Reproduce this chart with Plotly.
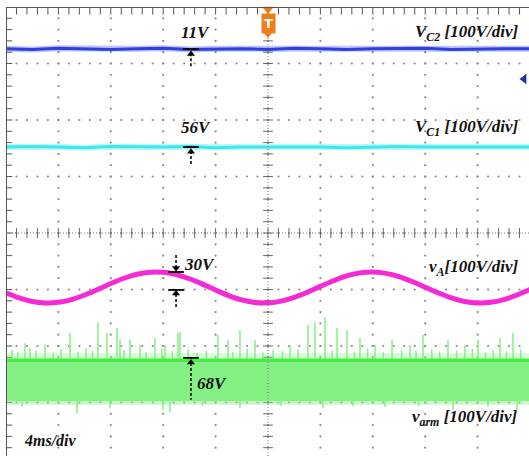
import numpy as np
import plotly.graph_objects as go

# ---------------- data (time in ms, 4 ms/div; vertical in divisions, 100 V/div) -------------
t_dc = [0, 2, 4, 6, 8, 10, 12, 14, 16, 18, 20, 22, 24, 26, 28, 30, 32, 34, 36, 38, 40]
vc2 = [3.26, 3.25, 3.27, 3.26, 3.25, 3.26, 3.27, 3.25, 3.26, 3.26, 3.25,
       3.27, 3.26, 3.25, 3.26, 3.26, 3.27, 3.25, 3.26, 3.26, 3.26]
vc1 = [1.52, 1.53, 1.52, 1.51, 1.53, 1.52, 1.52, 1.53, 1.51, 1.52, 1.52,
       1.53, 1.52, 1.51, 1.52, 1.53, 1.52, 1.52, 1.51, 1.52, 1.52]

t_va = list(range(0, 41))
va = [-1.060, -1.149, -1.212, -1.239, -1.227, -1.178, -1.098, -0.999, -0.895, -0.801,
      -0.731, -0.694, -0.696, -0.737, -0.810, -0.905, -1.009, -1.107, -1.185, -1.231,
      -1.238, -1.206, -1.139, -1.048, -0.945, -0.845, -0.760, -0.706, -0.690, -0.714,
      -0.772, -0.858, -0.959, -1.060, -1.149, -1.212, -1.239, -1.227, -1.178, -1.098,
      -0.999]

varm_t = [0, 40]
varm_top = [-2.25, -2.25]
varm_bottom = [-2.98, -2.98]

spike_t = [0.46, 1.45, 1.83, 2.98, 4.89, 7.02, 7.71, 8.47, 8.70, 9.47, 10.23, 11.37, 12.14,
           13.13, 13.28, 16.18, 16.95, 17.86, 19.01, 21.68, 23.05, 23.59, 24.35, 25.27,
           26.03, 27.02, 28.17, 29.47, 30.84, 31.83, 33.74, 35.04, 36.03, 37.71, 38.70]
spike_top = [-2.07, -1.95, -2.04, -1.98, -1.77, -1.58, -1.77, -1.68, -1.89, -1.89, -1.98,
             -1.86, -1.98, -1.77, -1.75, -1.80, -1.89, -1.72, -1.89, -1.98, -1.63, -1.59,
             -1.49, -1.68, -1.72, -1.86, -1.98, -1.89, -1.98, -1.80, -1.89, -1.98, -1.89,
             -1.86, -1.77]
small_t = [0.9, 2.3, 3.6, 4.2, 5.5, 6.1, 6.6, 9.0, 10.7, 11.9, 12.7, 13.9, 14.6, 15.3,
           17.3, 18.4, 19.6, 20.4, 21.1, 22.3, 24.9, 26.6, 27.6, 28.8, 30.2, 31.3, 32.5,
           33.1, 34.4, 35.6, 36.6, 37.2, 38.2, 39.3]
small_top = [-2.10, -2.08, -2.12, -2.06, -2.10, -2.04, -2.09, -2.07, -2.11, -2.05, -2.09,
             -2.06, -2.12, -2.08, -2.10, -2.05, -2.11, -2.07, -2.09, -2.06, -2.08, -2.10,
             -2.05, -2.11, -2.07, -2.09, -2.06, -2.10, -2.08, -2.05, -2.11, -2.07, -2.09,
             -2.06]
dip_t = [1.2, 5.42, 7.94, 11.98, 12.52, 15.0, 17.86, 21.0, 24.2, 26.5, 28.93, 31.5, 34.12,
         36.8, 39.0]
dip_bottom = [-3.07, -3.19, -3.10, -3.13, -3.17, -3.06, -3.10, -3.06, -3.10, -3.06, -3.08,
              -3.06, -3.13, -3.07, -3.13]

# ---------------- figure --------------------------------------------------------------------
fig = go.Figure()

# grid dots
gx, gy = [], []
for xv in np.arange(0, 40.01, 4):
    for yv in np.arange(-4, 4.01, 0.2):
        gx.append(xv); gy.append(yv)
for yv in np.arange(-4, 4.01, 1):
    for xv in np.arange(0, 40.01, 0.8):
        gx.append(xv); gy.append(yv)
fig.add_trace(go.Scatter(x=gx, y=gy, mode="markers",
                         marker=dict(size=2.2, color="#8a8a8a"), hoverinfo="skip"))

# crosshair ticks
fig.add_trace(go.Scatter(x=list(np.arange(0, 40.01, 0.8)), y=[0] * 51, mode="markers",
                         marker=dict(symbol="line-ns", size=7, line=dict(width=1, color="#666")),
                         hoverinfo="skip"))
fig.add_trace(go.Scatter(x=[20] * 41, y=list(np.arange(-4, 4.01, 0.2)), mode="markers",
                         marker=dict(symbol="line-ew", size=7, line=dict(width=1, color="#666")),
                         hoverinfo="skip"))
# border ticks
fig.add_trace(go.Scatter(x=[0.15] * 41, y=list(np.arange(-4, 4.01, 0.2)), mode="markers",
                         marker=dict(symbol="line-ew", size=6, line=dict(width=1, color="#555")),
                         hoverinfo="skip"))
fig.add_trace(go.Scatter(x=list(np.arange(0, 40.01, 0.8)), y=[3.94] * 51, mode="markers",
                         marker=dict(symbol="line-ns", size=6, line=dict(width=1, color="#555")),
                         hoverinfo="skip"))

# v_arm band
fig.add_trace(go.Scatter(x=varm_t, y=varm_bottom, mode="lines", line=dict(width=0, color="#86f086"),
                         hoverinfo="skip"))
fig.add_trace(go.Scatter(x=varm_t, y=varm_top, mode="lines", fill="tonexty",
                         fillcolor="#84f084", line=dict(width=0, color="#84f084"), hoverinfo="skip"))
# fuzzy edges
fig.add_trace(go.Scatter(x=varm_t, y=varm_top, mode="lines", line=dict(width=0),
                         hoverinfo="skip"))
fig.add_trace(go.Scatter(x=varm_t, y=[v + 0.12 for v in varm_top], mode="lines", fill="tonexty",
                         fillcolor="rgba(134,240,134,0.35)", line=dict(width=0), hoverinfo="skip"))
fig.add_trace(go.Scatter(x=varm_t, y=varm_bottom, mode="lines", line=dict(width=0),
                         hoverinfo="skip"))
fig.add_trace(go.Scatter(x=varm_t, y=[v - 0.06 for v in varm_bottom], mode="lines", fill="tonexty",
                         fillcolor="rgba(134,240,134,0.45)", line=dict(width=0), hoverinfo="skip"))

sx, sy = [], []
for t, top in zip(spike_t, spike_top):
    sx += [t, t, None]; sy += [varm_top[0], top, None]
for t, top in zip(small_t, small_top):
    sx += [t, t, None]; sy += [varm_top[0], top, None]
for t, bot in zip(dip_t, dip_bottom):
    sx += [t, t, None]; sy += [varm_bottom[0], bot, None]
fig.add_trace(go.Scatter(x=sx, y=sy, mode="lines", line=dict(width=1.6, color="#8cf08c"),
                         hoverinfo="skip"))
fig.add_trace(go.Scatter(x=varm_t, y=varm_top, mode="lines", line=dict(width=3.5, color="#46ec46"),
                         hoverinfo="skip"))

# DC traces
fig.add_trace(go.Scatter(x=t_dc, y=vc2, mode="lines", line=dict(width=6, color="rgba(48,64,230,0.3)"),
                         hoverinfo="skip"))
fig.add_trace(go.Scatter(x=t_dc, y=vc2, mode="lines", line=dict(width=3, color="#2f3fe0"),
                         hoverinfo="skip"))
fig.add_trace(go.Scatter(x=t_dc, y=vc1, mode="lines", line=dict(width=6, color="rgba(60,230,240,0.35)"),
                         hoverinfo="skip"))
fig.add_trace(go.Scatter(x=t_dc, y=vc1, mode="lines", line=dict(width=3, color="#3ee6f0"),
                         hoverinfo="skip"))
# v_A
fig.add_trace(go.Scatter(x=t_va, y=va, mode="lines", line=dict(width=5, color="#f52ad6", shape="spline"),
                         hoverinfo="skip"))

# ---------------- measurement markers ---------------------------------------------------------
shapes = []
def hbar(xc, y):
    shapes.append(dict(type="line", x0=xc - 0.6, x1=xc + 0.6, y0=y, y1=y,
                       line=dict(color="black", width=1.8)))
def dashed(x, y0, y1):
    shapes.append(dict(type="line", x0=x, x1=x, y0=y0, y1=y1,
                       line=dict(color="black", width=1.5, dash="3px,2px")))

arrow_x, arrow_y, arrow_sym = [], [], []
# 11V
hbar(14.12, 3.257); dashed(14.12, 3.18, 2.95)
arrow_x.append(14.12); arrow_y.append(3.17); arrow_sym.append("triangle-up")
# 56V
hbar(14.12, 1.522); dashed(14.12, 1.45, 1.20)
arrow_x.append(14.12); arrow_y.append(1.44); arrow_sym.append("triangle-up")
# 30V
hbar(12.98, -0.69); dashed(12.98, -0.39, -0.62)
arrow_x.append(12.98); arrow_y.append(-0.62); arrow_sym.append("triangle-down")
hbar(12.98, -1.008); dashed(12.98, -1.31, -1.08)
arrow_x.append(12.98); arrow_y.append(-1.07); arrow_sym.append("triangle-up")
# 68V
hbar(14.12, -2.21); dashed(14.12, -2.30, -2.95)
arrow_x.append(14.12); arrow_y.append(-2.29); arrow_sym.append("triangle-up")
fig.add_trace(go.Scatter(x=arrow_x, y=arrow_y, mode="markers",
                         marker=dict(symbol=arrow_sym, size=7, color="black"), hoverinfo="skip"))

# trigger marker and ground marker
fig.add_trace(go.Scatter(x=[20], y=[3.96], mode="markers",
                         marker=dict(symbol="triangle-down", size=10, color="#f07d1a"),
                         hoverinfo="skip", cliponaxis=False))
fig.add_trace(go.Scatter(x=[20], y=[3.52], mode="markers",
                         marker=dict(symbol="triangle-down", size=8, color="#f07d1a"),
                         hoverinfo="skip"))
fig.add_trace(go.Scatter(x=[39.55], y=[2.726], mode="markers",
                         marker=dict(symbol="triangle-left", size=9, color="#1e2fb0"),
                         hoverinfo="skip"))

# borders and crosshair lines
shapes += [
    dict(type="line", x0=0, x1=0, y0=-4, y1=4, line=dict(color="#555", width=2)),
    dict(type="line", x0=0, x1=40, y0=4, y1=4, line=dict(color="#555", width=2)),
    dict(type="line", x0=20, x1=20, y0=-4, y1=4, line=dict(color="#777", width=1, dash="1px,2px")),
    dict(type="line", x0=0, x1=40, y0=0, y1=0, line=dict(color="#777", width=1, dash="1px,2px")),
]

FONT = "Liberation Serif"
def label(text, x, y, xanchor="center", size=17):
    return dict(text=text, x=x, y=y, xanchor=xanchor, yanchor="middle",
                showarrow=False,
                font=dict(family=FONT, size=size, color="#111", weight="bold", style="italic"))

annotations = [
    label("11V", 14.43, 3.54),
    label("56V", 14.5, 1.86),
    label("30V", 14.8, -0.55),
    label("68V", 15.73, -2.655),
    label("V<sub>C2</sub> [100V/div]", 39.2, 3.54, "right"),
    label("V<sub>C1</sub> [100V/div]", 39.2, 1.86, "right"),
    label("v<sub>A</sub>[100V/div]", 39.2, -0.62, "right"),
    label("v<sub>arm</sub> [100V/div]", 39.2, -3.27, "right"),
    label("4ms/div", 1.2, -3.68, "left", 16),
    dict(text="T", x=20, y=3.7, showarrow=False, bgcolor="#f07d1a",
         font=dict(family="DejaVu Sans", size=13, color="white", weight="bold"), borderpad=2),
]

fig.update_layout(
    width=529, height=456,
    margin=dict(l=6, r=0, t=7, b=0),
    paper_bgcolor="white", plot_bgcolor="white",
    font=dict(family=FONT, size=16, color="#111"),
    showlegend=False,
    shapes=shapes, annotations=annotations,
    xaxis=dict(range=[0, 523 / 52.4 * 4], showgrid=False, zeroline=False,
               showticklabels=False, ticks="", fixedrange=True),
    yaxis=dict(range=[4 - 449 / 56.5, 4], showgrid=False, zeroline=False,
               showticklabels=False, ticks="", fixedrange=True),
)

fig.write_html("out.html", config={"displayModeBar": False})
with open("out.html", "r", encoding="utf-8") as f:
    html = f.read()
html = html.replace("<body>", '<body style="margin:0;padding:0;">', 1)
with open("out.html", "w", encoding="utf-8") as f:
    f.write(html)
